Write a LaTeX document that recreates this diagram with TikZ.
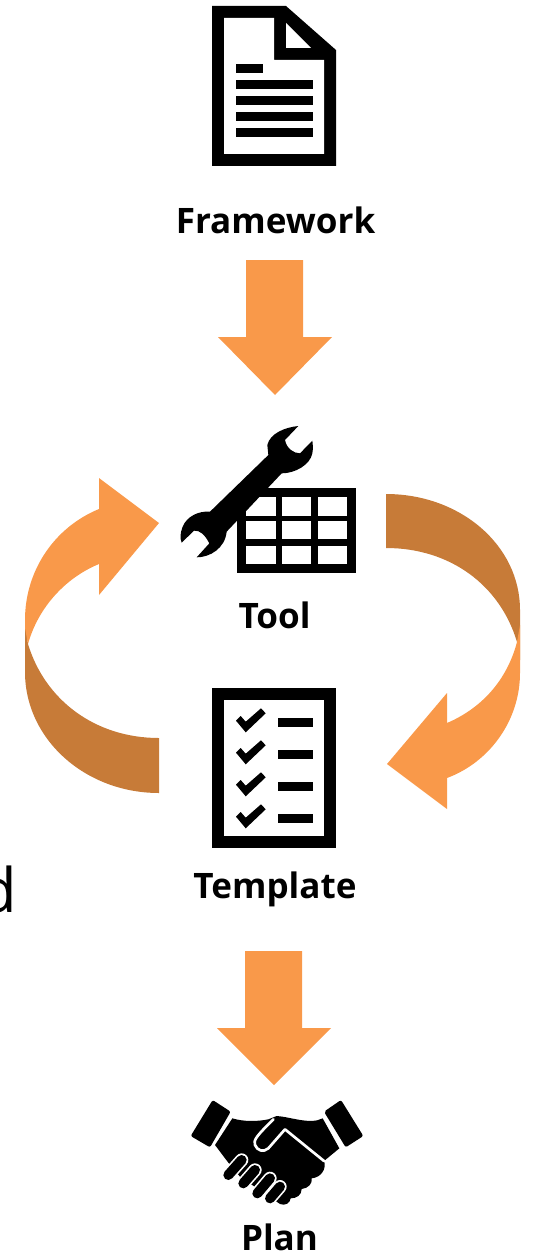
\documentclass[tikz,border=0pt]{standalone}
\usepackage{fontspec}
\setmainfont{Open Sans}
\definecolor{lightor}{HTML}{F9994A}
\definecolor{darkor}{HTML}{C77B38}
\tikzset{
  px/.style={x=0.75pt,y=-0.75pt},
  lbl/.style={font=\fontsize{26.3}{26.3}\selectfont\bfseries,inner sep=0pt,text=black,anchor=base},
  lightf/.style={fill=lightor,draw=none},
  darkf/.style={fill=darkor,draw=none},
  ink/.style={fill=black,draw=none},
  paper/.style={fill=white,draw=none},
  gap/.style={draw=white,line width=2pt,line cap=round,line join=round},
  zoomed/.style={x=0.25pt,y=-0.25pt}
}
\begin{document}
\begin{tikzpicture}[px]
\useasboundingbox (0,0) rectangle (533,1252);
\clip (0,0) rectangle (533,1252);
% clipped letter at the left edge
\node[anchor=base east,inner sep=0pt,font=\fontsize{46}{46}\selectfont] (d) at (17,912) {d};
% document icon
\fill[ink] (212,6) -- (286,6) -- (336,50) -- (336,166) -- (212,166) -- cycle;
\fill[paper] (224,18) -- (274,18) -- (274,60) -- (324,60) -- (324,154) -- (224,154) -- cycle;
\fill[paper] (286,23) -- (311,48) -- (286,48) -- cycle;
\fill[ink] (236,64) rectangle (263,73);
\foreach \y in {80,96,112,128} \fill[ink] (236,\y) rectangle (313,\y+9);
\node[lbl] (framework) at (275.5,233) {Framework};
% down arrows
\fill[lightf] (246,260) -- (303,260) -- (303,337) -- (332,337) -- (275,395) -- (218,337) -- (246,337) -- cycle;
\fill[lightf] (245,951) -- (302,951) -- (302,1028) -- (331,1028) -- (274,1085) -- (217,1028) -- (245,1028) -- cycle;
% tool icon
\fill[ink] (237,488) rectangle (356,573);
\foreach \cx/\cw in {246/30,282/29.3,317.7/29.3}
  \foreach \cy/\ch in {497.3/18.4,521.3/18,545.7/18.3}
    \fill[paper] (\cx,\cy) rectangle (\cx+\cw,\cy+\ch);
\begin{scope}[shift={(170,420)},zoomed]
\fill[ink] (385,18) .. controls (345,22) and (300,40) .. (292,75) -- (295,105) -- (120,275)
  .. controls (85,272) and (50,290) .. (38,320) .. controls (30,340) and (30,355) .. (35,368)
  -- (72,332) .. controls (90,330) and (105,345) .. (118,370) -- (80,412)
  .. controls (120,412) and (165,385) .. (170,335) -- (335,160)
  .. controls (375,160) and (420,135) .. (427,100) .. controls (430,85) and (428,70) .. (427,62)
  -- (390,100) .. controls (370,100) and (350,85) .. (345,60) -- cycle;
\end{scope}
\node[lbl] (tool) at (274.5,628) {Tool};
% template icon
\fill[ink] (212,688) rectangle (336,848);
\fill[paper] (224,700) rectangle (324,836);
\foreach \y in {0,32,64,96} {
  \fill[ink] (278,718+\y) rectangle (313,727+\y);
  \fill[ink] (236,720.7+\y) -- (245.7,732.3+\y) -- (265.7,713.3+\y) -- (261,708.3+\y) -- (245.7,721.7+\y) -- (240.7,716+\y) -- cycle;
}
\node[lbl] (template) at (275,898) {Template};
% left loop arrow
\fill[darkf] (25,620) -- (25,672) .. controls (25,739) and (85,793) .. (159,793) -- (159,738)
  .. controls (95,738) and (45,700) .. (28,644) -- cycle;
\fill[lightf] (25,628) -- (25,620) .. controls (25,570) and (55,527) .. (99,509) -- (99,478) -- (159,523) -- (99,595) -- (99,564)
  .. controls (65,578) and (38,608) .. (28,644) -- cycle;
% right loop arrow
\fill[darkf] (386,494) .. controls (460,494) and (520,545) .. (520,610) -- (520,660) -- (517,642)
  .. controls (500,585) and (450,548) .. (386,548) -- cycle;
\fill[lightf] (517,642) -- (520,625) -- (520,673) .. controls (520,720) and (490,762) .. (447,778) -- (447,809) -- (387,764) -- (447,693) -- (447,723)
  .. controls (482,708) and (507,680) .. (517,642) -- cycle;
% handshake icon
\begin{scope}[shift={(180,1090)},zoomed]
\fill[ink,rounded corners=1.5pt] (98,30) -- (152,65) -- (90,172) -- (32,138) -- cycle;
\fill[ink,rounded corners=1.5pt] (483,30) -- (432,65) -- (497,172) -- (550,138) -- cycle;
\fill[ink] (157,85) .. controls (190,95) and (230,95) .. (265,88) -- (290,78) .. controls (330,80) and (390,105) .. (428,85)
  -- (478,175) -- (432,213)
  .. controls (440,235) and (425,262) .. (395,265)
  .. controls (398,280) and (385,295) .. (365,297)
  .. controls (365,315) and (350,325) .. (332,325)
  .. controls (330,340) and (315,348) .. (300,342)
  -- (180,260) -- (145,218) -- (105,165) -- cycle;
\draw[gap] (432,213) -- (315,118) -- (265,175) .. controls (250,188) and (232,182) .. (225,165) .. controls (220,150) and (228,140) .. (280,88);
\foreach \sx/\sy/\ex/\ey in {145/255/185/210,190/280/225/240,232/310/270/265,270/325/300/290}
  \draw[line cap=round,draw=white,line width=10pt] (\sx,\sy) -- (\ex,\ey);
\foreach \sx/\sy/\ex/\ey in {145/255/185/210,190/280/225/240,232/310/270/265,270/325/300/290}
  \draw[line cap=round,draw=black,line width=7.5pt] (\sx,\sy) -- (\ex,\ey);
\end{scope}
\node[lbl] (plan) at (279.5,1250) {Plan};
\end{tikzpicture}
\end{document}
